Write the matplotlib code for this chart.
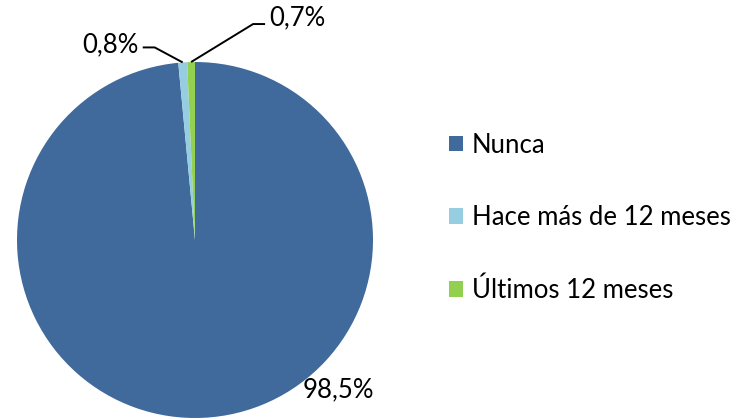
import numpy as np
import matplotlib
matplotlib.use("Agg")
import matplotlib.pyplot as plt

# data
categories = ["Nunca", "Hace más de 12 meses", "Últimos 12 meses"]
values = [98.5, 0.8, 0.7]
value_labels = ["98,5%", "0,8%", "0,7%"]
colors = ["#406A9C", "#96CDE0", "#92D050"]

W, H = 744, 419
plt.rcParams['font.family'] = ['Lato', 'DejaVu Sans']

fig = plt.figure(figsize=(W / 100, H / 100), dpi=100)
ax = fig.add_axes([0, 0, 1, 1])

cx, cy, r = 195, H - 240, 178
wedges, _ = ax.pie(values, colors=colors, startangle=90, counterclock=False,
                   center=(cx, cy), radius=r, frame=True,
                   wedgeprops=dict(linewidth=0))
ax.set_xlim(0, W)
ax.set_ylim(0, H)
ax.set_aspect('equal')
ax.axis('off')

fs = 18.5

# big slice label, inside lower right
ax.text(cx + 143, cy - 150, value_labels[0], fontsize=fs, ha='center', va='center')

# small slices: leader lines from wedge edge, bend, then horizontal
bends = [(-28, 15, -12), (62, 38, 12)]   # dx, dy to bend, horizontal length
for w, lab, (bx, by, hl) in zip(wedges[1:], value_labels[1:], bends):
    ang = np.deg2rad((w.theta1 + w.theta2) / 2)
    x0 = cx + r * np.cos(ang)
    y0 = cy + r * np.sin(ang)
    x1, y1 = x0 + bx, y0 + by
    x2 = x1 + hl
    ax.plot([x0, x1, x2], [y0, y1, y1], color='black', lw=1.4, solid_capstyle='butt')
    if hl < 0:
        ax.text(x2 - 4, y1 + 3, lab, fontsize=fs, ha='right', va='center')
    else:
        ax.text(x2 + 4, y1 + 6, lab, fontsize=fs, ha='left', va='center')

leg = ax.legend(wedges, categories, loc='center left',
                bbox_to_anchor=(449 / W, 1 - 218 / H), bbox_transform=fig.transFigure,
                frameon=False, fontsize=fs, labelspacing=1.85,
                handlelength=0.55, handleheight=0.55, handletextpad=0.33,
                borderpad=0, borderaxespad=0)

fig.savefig("out.png", dpi=100)
